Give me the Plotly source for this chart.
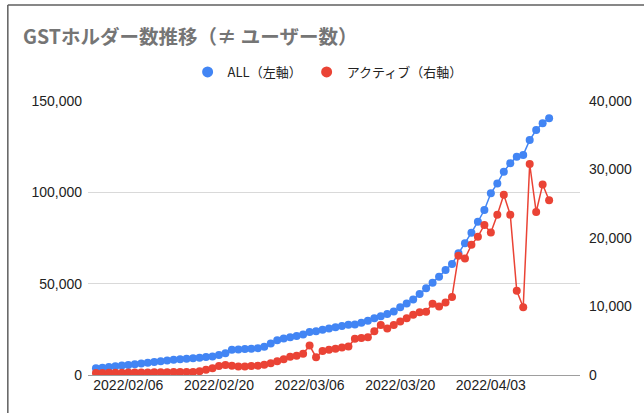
import pandas as pd
import plotly.graph_objects as go

# ---- data ----
start_date = "2022-02-01"
end_date = "2022-04-12"
all_holders = [
    3700, 4000, 4400, 4800, 5200, 5500, 5900, 6300, 6700, 7100,
    7500, 7900, 8300, 8600, 8900, 9200, 9500, 9800, 10100, 10900,
    11900, 13800, 14000, 14200, 14400, 14700, 15400, 17200, 19000, 20000,
    20700, 21400, 22200, 23500, 24000, 24800, 25500, 26100, 26800, 27500,
    27600, 28600, 29700, 31000, 32200, 33400, 34700, 37100, 39200, 41400,
    44300, 47500, 50500, 53800, 57500, 60800, 66600, 72100, 77900, 83900,
    90300, 99500, 104900, 111300, 115900, 119500, 120500, 128600, 134100, 137800,
    140500,
]
active_holders = [
    300, 300, 320, 330, 340, 350, 360, 370, 380, 390,
    400, 410, 420, 430, 440, 450, 550, 750, 1000, 1300,
    1450, 1350, 1250, 1250, 1300, 1350, 1500, 1700, 2000, 2300,
    2650, 2800, 3100, 4300, 2600, 3500, 3700, 3850, 4000, 4150,
    5300, 5400, 5500, 6400, 7300, 6800, 7300, 7800, 8300, 8800,
    9150, 9250, 10400, 10000, 10600, 11400, 17400, 17000, 19000, 20200,
    21900, 20800, 23400, 26300, 23400, 12300, 9900, 30800, 23800, 27800,
    25500,
]
x_tick_dates = ["2022-02-06", "2022-02-20", "2022-03-06", "2022-03-20", "2022-04-03"]
x_tick_labels = ["2022/02/06", "2022/02/20", "2022/03/06", "2022/03/20", "2022/04/03"]
left_ticks = [0, 50000, 100000, 150000]
right_ticks = [0, 10000, 20000, 30000, 40000]
name_all = "ALL（左軸）"
name_active = "アクティブ（右軸）"
title_text = "GSTホルダー数推移（≠ ユーザー数）"

dates = pd.date_range(start_date, end_date, freq="D")

BLUE = "#4285F4"
RED = "#EA4335"
FONT = "Liberation Sans, Arial, Noto Sans CJK JP, sans-serif"

fig = go.Figure()
fig.add_trace(go.Scatter(x=dates, y=all_holders, mode="lines+markers",
                         line=dict(color=BLUE, width=1.5),
                         marker=dict(color=BLUE, size=8),
                         showlegend=False, yaxis="y"))
fig.add_trace(go.Scatter(x=dates, y=active_holders, mode="lines+markers",
                         line=dict(color=RED, width=1.5),
                         marker=dict(color=RED, size=8),
                         showlegend=False, yaxis="y2"))
# legend-only entries (dot only)
fig.add_trace(go.Scatter(x=[None], y=[None], mode="markers", name=name_all,
                         marker=dict(color=BLUE, size=11)))
fig.add_trace(go.Scatter(x=[None], y=[None], mode="markers", name=name_active,
                         marker=dict(color=RED, size=11), yaxis="y2"))

fig.update_layout(
    width=644, height=413,
    margin=dict(l=88, r=62, t=101, b=38),
    paper_bgcolor="white", plot_bgcolor="white",
    font=dict(family=FONT, size=14, color="#222222"),
    title=dict(text="<b>" + title_text + "</b>", x=23 / 644, xanchor="left",
               y=1 - 37 / 413, yanchor="middle",
               font=dict(family="Noto Sans CJK JP, sans-serif", size=19.5, color="#757575")),
    legend=dict(orientation="h", x=0.487, xanchor="center", y=1.106, yanchor="middle",
                font=dict(family="Noto Sans CJK JP, sans-serif", size=13, color="#222222"),
                itemwidth=30, tracegroupgap=0, bgcolor="rgba(0,0,0,0)"),
    xaxis=dict(type="date", range=["2022-01-30 18:30", "2022-04-16 18:30"],
               tickvals=x_tick_dates, ticktext=x_tick_labels,
               showgrid=False, zeroline=False, showline=False, ticks="",
               tickfont=dict(size=14, color="#222222")),
    yaxis=dict(range=[0, 150000], tickvals=left_ticks, tickformat=",d",
               showgrid=True, gridcolor="#d9d9d9", gridwidth=1,
               zeroline=True, zerolinecolor="#9e9e9e", zerolinewidth=1.2,
               showline=False, ticks="", ticklabelstandoff=5,
               tickfont=dict(size=14, color="#222222")),
    yaxis2=dict(range=[0, 40000], tickvals=right_ticks, tickformat=",d",
                overlaying="y", side="right", showgrid=False, zeroline=False,
                showline=False, ticks="", ticklabelstandoff=8,
                tickfont=dict(size=14, color="#222222")),
    shapes=[
        dict(type="line", xref="paper", yref="paper",
             x0=(7.5 - 88) / 494, x1=(7.5 - 88) / 494,
             y0=(375 - 420) / 274, y1=(375 - 5) / 274,
             line=dict(color="#5f5f5f", width=1.5)),
        dict(type="line", xref="paper", yref="paper",
             x0=(7.5 - 88) / 494, x1=(650 - 88) / 494,
             y0=(375 - 5) / 274, y1=(375 - 5) / 274,
             line=dict(color="#5f5f5f", width=1.5)),
    ],
)

fig.write_html("out.html")
